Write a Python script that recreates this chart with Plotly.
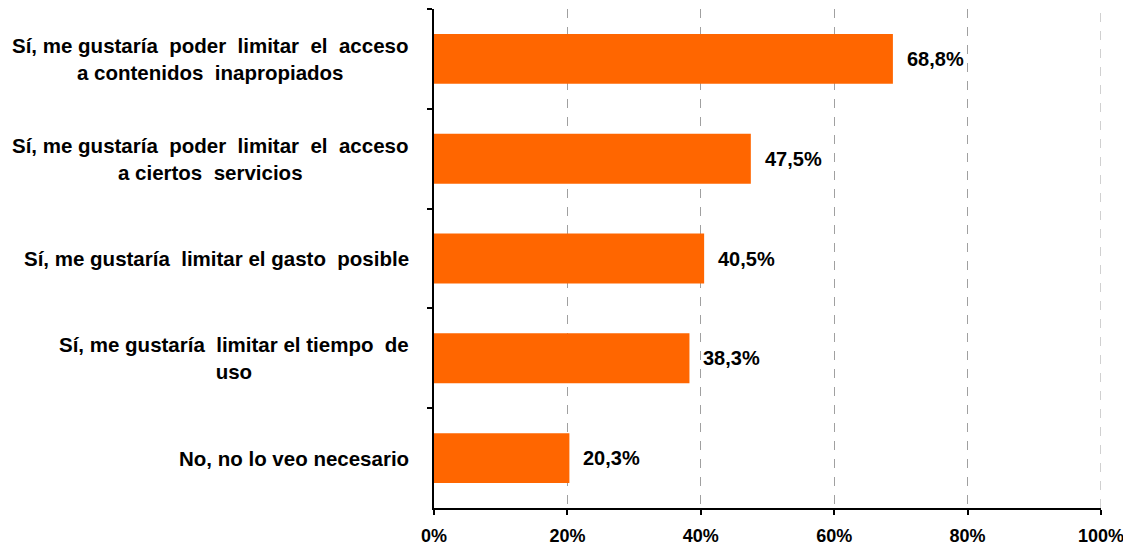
import plotly.graph_objects as go

categories = [
    "Sí, me gustaría  poder  limitar  el  acceso<br>a contenidos  inapropiados",
    "Sí, me gustaría  poder  limitar  el  acceso<br>a ciertos  servicios",
    "Sí, me gustaría  limitar el gasto  posible",
    "Sí, me gustaría  limitar el tiempo  de<br>uso",
    "No, no lo veo necesario",
]
values = [68.8, 47.5, 40.5, 38.3, 20.3]
tick_vals = [0, 20, 40, 60, 80, 100]
tick_text = ["0%", "20%", "40%", "60%", "80%", "100%"]

labels = [f"{v:.1f}".replace(".", ",") + "%" for v in values]
ykeys = [f"c{i}" for i in range(len(categories))]

fig = go.Figure(go.Bar(
    x=values, y=ykeys, orientation="h",
    marker=dict(color="#FF6600", line=dict(width=0)),
    width=0.5,
))

font_family = "Liberation Sans, Arial, sans-serif"
annotations = []
for k, cat in zip(ykeys, categories):
    annotations.append(dict(
        x=-0.035, xref="paper", y=k, yref="y", text="<b>" + cat + "</b>",
        showarrow=False, xanchor="right", yanchor="middle", align="center",
        font=dict(family=font_family, size=20.5, color="#000000"),
    ))
for k, v, lab in zip(ykeys, values, labels):
    annotations.append(dict(
        x=v, xref="x", y=k, yref="y", text="<b>" + lab + "</b>",
        showarrow=False, xanchor="left", yanchor="middle", xshift=12,
        font=dict(family=font_family, size=20, color="#000000"),
    ))

# gridline at the right edge of the axis (plotly hides grid lines on the plot edge)
shapes = [dict(
    type="line", xref="x", yref="paper", x0=tick_vals[-1], x1=tick_vals[-1], y0=0, y1=1,
    line=dict(color="#A0A0A0", width=1, dash="dash"), layer="below",
)]

fig.update_layout(
    width=1123, height=539,
    margin=dict(l=426, r=30, t=1, b=39),
    plot_bgcolor="white", paper_bgcolor="white",
    showlegend=False,
    annotations=annotations,
    shapes=shapes,
    xaxis=dict(
        range=[0, 100], tickvals=tick_vals, ticktext=["<b>" + t + "</b>" for t in tick_text],
        showgrid=True, gridcolor="#A0A0A0", griddash="dash", gridwidth=1,
        showline=True, linecolor="#000000", linewidth=1.5,
        ticks="outside", ticklen=5, tickcolor="#000000", tickwidth=1.5,
        tickfont=dict(family=font_family, size=18, color="#000000"),
        ticklabelstandoff=6,
        zeroline=False, fixedrange=True, automargin=False,
    ),
    yaxis=dict(
        autorange="reversed", showticklabels=False,
        showline=True, linecolor="#000000", linewidth=1.5,
        ticks="outside", ticklen=5, tickcolor="#000000", tickwidth=1.5,
        tickson="boundaries", showgrid=False, fixedrange=True,
    ),
)

fig.write_html("out.html")
